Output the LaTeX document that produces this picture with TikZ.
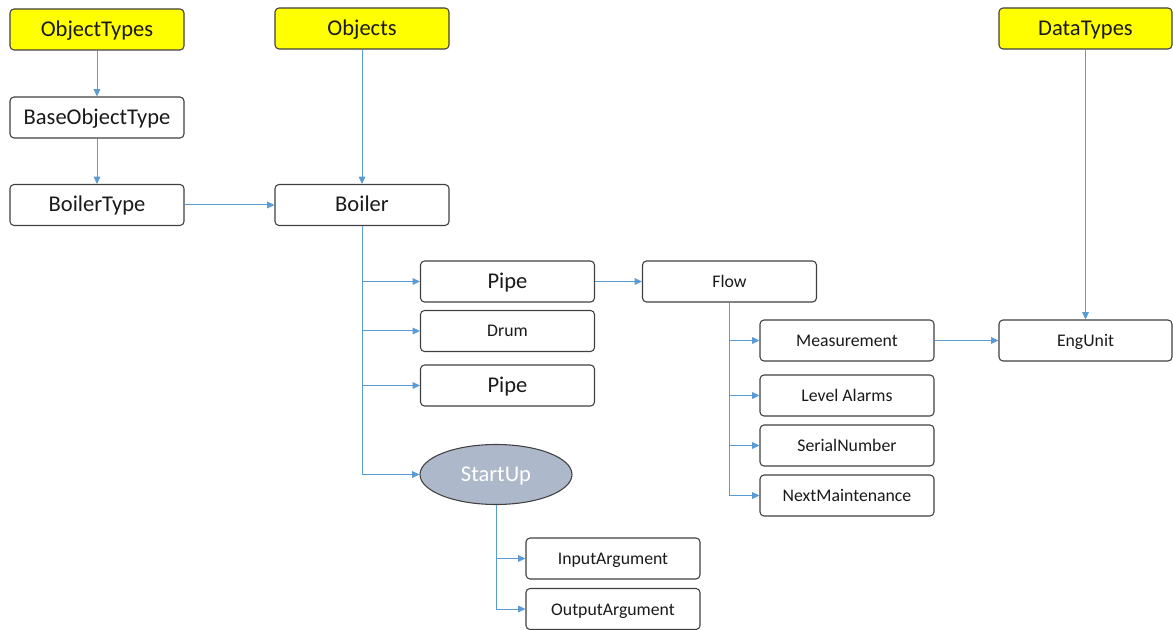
\documentclass[tikz,border=0pt]{standalone}
\usepackage{fontspec}
\setmainfont{Carlito}
\usetikzlibrary{arrows.meta,shapes.geometric}
\definecolor{linkblue}{HTML}{5B9BD5}
\definecolor{edgegray}{HTML}{404040}
\definecolor{rootyellow}{HTML}{FFFF00}
\definecolor{methodfill}{HTML}{ADB9CA}
\definecolor{textdark}{HTML}{1A1A1A}
\tikzset{
  box/.style={draw=edgegray, line width=0.8pt, rounded corners=3pt, fill=white,
    minimum width=174*0.75pt, minimum height=41*0.75pt, inner sep=0pt,
    text height=11pt, text depth=2pt,
    text=textdark, font=\fontsize{13.3}{15}\selectfont},
  bigbox/.style={box, text height=13.5pt, text depth=3pt,
    font=\fontsize{16.9}{19}\selectfont},
  rootbox/.style={bigbox, fill=rootyellow},
  methodnode/.style={ellipse, draw=edgegray, line width=0.8pt, fill=methodfill,
    minimum width=152*0.75pt, minimum height=60*0.75pt, inner sep=0pt,
    text height=14pt, text depth=3pt,
    text=white, font=\fontsize{16.9}{19}\selectfont},
  conn/.style={draw=linkblue, line width=0.75pt,
    -{Triangle[length=5.5pt,width=5pt]}}
}
\begin{document}
\begin{tikzpicture}[x=0.75pt,y=-0.75pt]
\useasboundingbox (0,0) rectangle (1173,630);

% root folders
\node[rootbox] (objtypes) at (97,29.5) {ObjectTypes};
\node[rootbox] (objects) at (362,28.5) {Objects};
\node[rootbox, minimum width=173*0.75pt] (datatypes) at (1085.5,28.5) {DataTypes};

% type hierarchy
\node[bigbox] (baseobj) at (97,117.5) {BaseObjectType};
\node[bigbox] (boilertype) at (97,205) {BoilerType};

% instance
\node[bigbox] (boiler) at (362,205) {Boiler};
\node[bigbox] (pipeA) at (507.5,281.5) {Pipe};
\node[box] (drum) at (507.5,331) {Drum};
\node[bigbox] (pipeB) at (507.5,385.5) {Pipe};
\node[methodnode] (startup) at (496,474.5) {StartUp};

\node[box] (flow) at (729.5,281.5) {Flow};
\node[box] (meas) at (847,340.5) {Measurement};
\node[box] (alarms) at (847,395.5) {Level Alarms};
\node[box] (serial) at (847,445.5) {SerialNumber};
\node[box] (maint) at (847,495.5) {NextMaintenance};
\node[box, minimum width=173*0.75pt] (engunit) at (1085.5,340.5) {EngUnit};

\node[box] (inarg) at (613,558.5) {InputArgument};
\node[box] (outarg) at (613,609) {OutputArgument};

% references
\draw[conn] (objtypes.south) -- (baseobj.north);
\draw[conn] (baseobj.south) -- (boilertype.north);
\draw[conn] (boilertype.east) -- (boiler.west);
\draw[conn] (objects.south) -- (boiler.north);
\draw[conn] (datatypes.south) -- (engunit.north);

\draw[conn] (boiler.south) |- (pipeA.west);
\draw[conn] (boiler.south) |- (drum.west);
\draw[conn] (boiler.south) |- (pipeB.west);
\draw[conn] (boiler.south) |- (startup.west);

\draw[conn] (pipeA.east) -- (flow.west);
\draw[conn] (flow.south) |- (meas.west);
\draw[conn] (flow.south) |- (alarms.west);
\draw[conn] (flow.south) |- (serial.west);
\draw[conn] (flow.south) |- (maint.west);
\draw[conn] (meas.east) -- (engunit.west);

\draw[conn] (startup.south) |- (inarg.west);
\draw[conn] (startup.south) |- (outarg.west);
\end{tikzpicture}
\end{document}
